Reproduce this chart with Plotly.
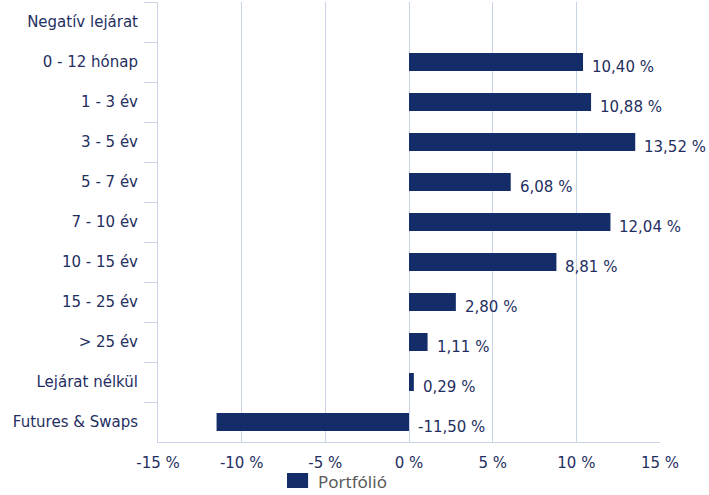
import plotly.graph_objects as go

categories = ["Negatív lejárat", "0 - 12 hónap", "1 - 3 év", "3 - 5 év", "5 - 7 év",
              "7 - 10 év", "10 - 15 év", "15 - 25 év", "> 25 év", "Lejárat nélkül",
              "Futures & Swaps"]
values = [None, 10.40, 10.88, 13.52, 6.08, 12.04, 8.81, 2.80, 1.11, 0.29, -11.50]
tick_vals = [-15, -10, -5, 0, 5, 10, 15]
tick_text = ["-15 %", "-10 %", "-5 %", "0 %", "5 %", "10 %", "15 %"]
series_name = "Portfólió"

BAR = "#142d69"
TXT = "#1f2f5f"
GRID = "#c9d5e6"
FONT = "DejaVu Sans"

fig = go.Figure()
fig.add_trace(go.Bar(
    x=values, y=categories, orientation="h", name=series_name,
    marker=dict(color=BAR, line=dict(width=0)), showlegend=False,
))

for c, v in zip(categories, values):
    if v is None:
        continue
    fig.add_annotation(
        x=max(v, 0), y=c, text=f"{v:.2f}".replace(".", ",") + " %",
        showarrow=False, xanchor="left", yanchor="middle",
        xshift=7, yshift=-5, font=dict(family=FONT, size=15, color=TXT),
    )

# legend (swatch + label) below the plot
fig.add_shape(type="rect", xref="paper", yref="paper",
              x0=0.257, x1=0.299, y0=-0.0705, y1=-0.1045,
              fillcolor=BAR, line=dict(width=0))
fig.add_annotation(xref="paper", yref="paper", x=0.3147, y=-0.089,
                   text=series_name, showarrow=False, xanchor="left", yanchor="middle",
                   font=dict(family="Noto Sans", size=17, color="#595959"))

fig.update_layout(
    width=709, height=495,
    margin=dict(l=158, r=49, t=2, b=53),
    paper_bgcolor="white", plot_bgcolor="white",
    bargap=0.55,
    font=dict(family=FONT, size=15, color=TXT),
    showlegend=False,
    xaxis=dict(range=[-15, 15], tickvals=tick_vals, ticktext=tick_text,
               showgrid=True, gridcolor=GRID, gridwidth=1,
               zeroline=True, zerolinecolor=GRID, zerolinewidth=1,
               showline=True, linecolor=GRID, linewidth=1,
               ticks="", ticklabelstandoff=7, fixedrange=True, automargin=False),
    yaxis=dict(categoryorder="array", categoryarray=categories, autorange="reversed",
               showgrid=False, showline=True, linecolor=GRID, linewidth=1,
               ticks="outside", ticklen=13, tickcolor=GRID, tickson="boundaries",
               ticklabelstandoff=16, fixedrange=True, automargin=False),
)

fig.write_html("out.html", post_script="document.body.style.margin='0';",
               config={"displayModeBar": False})
